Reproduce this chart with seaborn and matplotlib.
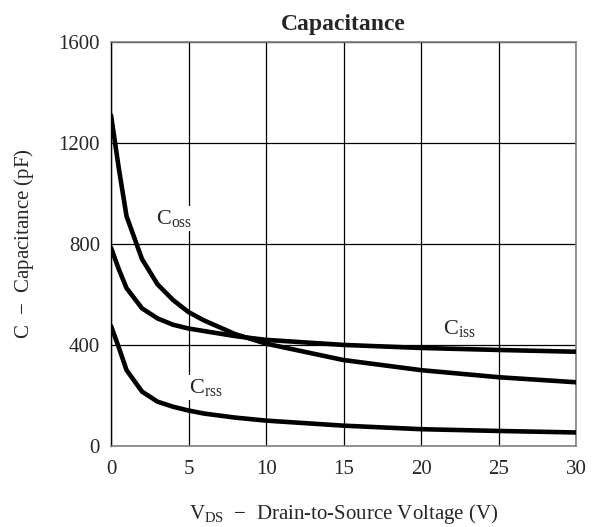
import seaborn as sns
import matplotlib.pyplot as plt
import pandas as pd

# Valores
vds = [0, 0.5, 1, 2, 3, 4, 5, 6, 8, 10, 15, 20, 25, 30]
c_oss = [1310, 1100, 910, 740, 640, 578, 530, 497, 443, 405, 340, 300, 272, 252]
c_iss = [785, 700, 625, 545, 505, 480, 465, 455, 435, 420, 400, 388, 380, 373]
c_rss = [475, 390, 300, 215, 175, 155, 140, 128, 112, 100, 80, 66, 59, 53]

x_ticks = [0, 5, 10, 15, 20, 25, 30]
y_ticks = [0, 400, 800, 1200, 1600]

df = pd.DataFrame({'VDS': vds, 'Coss': c_oss, 'Ciss': c_iss, 'Crss': c_rss})

sns.set_style("white")
plt.rcParams['font.family'] = ['Liberation Serif', 'DejaVu Serif']
plt.rcParams['mathtext.fontset'] = 'custom'
plt.rcParams['mathtext.rm'] = 'Liberation Serif'
plt.rcParams['mathtext.it'] = 'Liberation Serif:italic'

fig = plt.figure(figsize=(5.97, 5.27), dpi=100)
ax = fig.add_axes([0.186, 0.154, 0.779, 0.766])

for col in ['Coss', 'Ciss', 'Crss']:
    sns.lineplot(data=df, x='VDS', y=col, ax=ax, color='black', linewidth=3.3, zorder=3)

ax.set_xlim(0, 30)
ax.set_ylim(0, 1600)
ax.set_xticks(x_ticks)
ax.set_yticks(y_ticks)
ax.grid(True, color='black', linewidth=0.9)
ax.set_axisbelow(True)

for s in ['top', 'right', 'bottom']:
    ax.spines[s].set_color('#808080')
    ax.spines[s].set_linewidth(1.2)
ax.spines['left'].set_color('black')
ax.spines['left'].set_linewidth(1.0)

ax.tick_params(labelsize=15, length=3, color='#808080')
ax.tick_params(axis='x', pad=7)
ax.tick_params(axis='y', pad=5)

box = dict(facecolor='white', edgecolor='none', pad=1.5)
ax.text(4.1, 900, r'C$_{\mathrm{oss}}$', fontsize=16, ha='center', va='center', bbox=box, zorder=4)
ax.text(6.1, 232, r'C$_{\mathrm{rss}}$', fontsize=16, ha='center', va='center', bbox=box, zorder=4)
ax.text(22.5, 467, r'C$_{\mathrm{iss}}$', fontsize=16, ha='center', va='center', bbox=box, zorder=4)

ax.set_title('Capacitance', fontsize=17, fontweight='bold', pad=9)
ax.set_xlabel(r'V$_{\mathrm{DS}}$  $-$  Drain-to-Source Voltage (V)', fontsize=15, labelpad=17)
ax.set_ylabel(r'C  $-$  Capacitance (pF)', fontsize=15, labelpad=16)

fig.savefig('out.png', dpi=100)
